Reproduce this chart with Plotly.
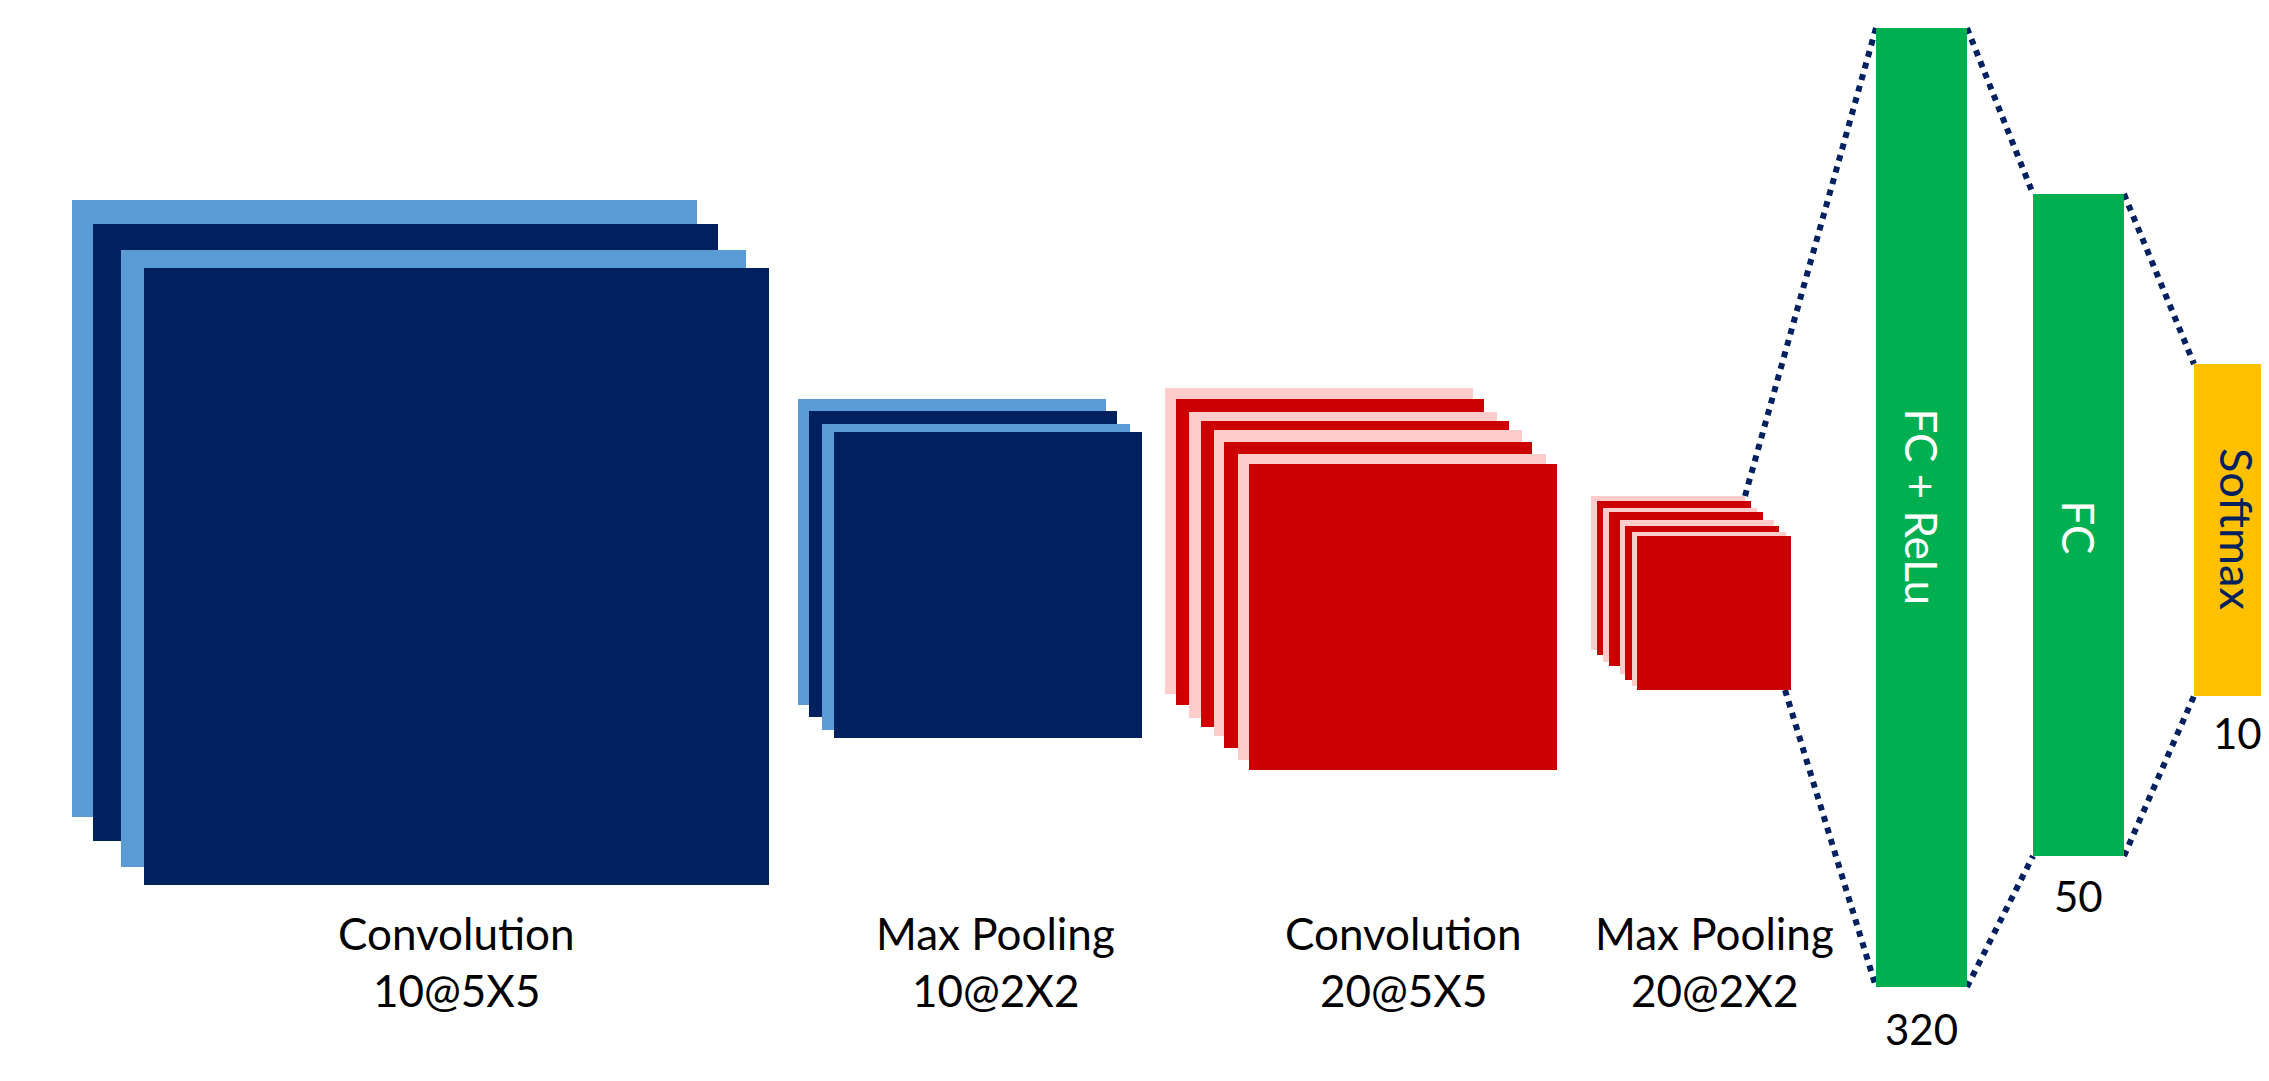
import plotly.graph_objects as go

W, H = 2269, 1081
BODY = 8  # default page body margin in the html page

# ---------------- data ----------------
stage_names = ["Convolution", "Max Pooling", "Convolution", "Max Pooling"]
stage_specs = ["10@5X5", "10@2X2", "20@5X5", "20@2X2"]
dense_names = ["FC + ReLu", "FC", "Softmax"]
dense_units = ["320", "50", "10"]

# ---------------- geometry (pixel space) ----------------
stack_origin = [(72, 200), (798, 399), (1165, 388), (1591, 496)]
stack_size = [(625, 617), (308, 306), (308, 306), (154, 154)]
stack_offsets = [
    [(0, 0), (21, 24), (49, 50), (72, 68)],
    [(0, 0), (11, 12), (24, 25), (36, 33)],
    [(0, 0), (11, 11), (24, 24), (36, 33), (49, 42), (59, 54), (73, 66), (84, 76)],
    [(0, 0), (6, 5), (12, 12), (18, 16), (29, 24), (34, 30), (41, 36), (46, 40)],
]
stack_colors = [("#5B9BD5", "#002060"), ("#5B9BD5", "#002060"),
                ("#FFCCCC", "#CC0000"), ("#FFCCCC", "#CC0000")]
label_x = [456, 995, 1403, 1714]
label_y = [933, 990]

dense_boxes = [(1876, 28, 1967, 987), (2033, 194, 2124, 856), (2194, 364, 2280, 696)]
dense_colors = ["#00B050", "#00B050", "#FFC000"]
dense_text_colors = ["white", "white", "#002060"]
dense_text_size = [44, 44, 45]
dense_text_y = [507, 527, 529]
unit_gap = [42, 40, 37]

NAVY = "#002060"
FONT = "Lato"

fig = go.Figure()
shapes = []
annotations = []

# connectors (drawn first so boxes sit on top)
p2x, p2y = stack_origin[3]
p2w, p2h = stack_size[3]
last = stack_offsets[3][-1]
segments = [
    ((p2x + p2w, p2y), (dense_boxes[0][0], dense_boxes[0][1])),
    ((p2x + last[0] + p2w - 6, p2y + last[1] + p2h), (dense_boxes[0][0], dense_boxes[0][3])),
]
for a, b in zip(dense_boxes[:-1], dense_boxes[1:]):
    segments.append(((a[2], a[1]), (b[0], b[1])))
    segments.append(((a[2], a[3]), (b[0], b[3])))
for (x0, y0), (x1, y1) in segments:
    shapes.append(dict(type="line", xref="x", yref="y", x0=x0, y0=y0, x1=x1, y1=y1,
                       line=dict(color=NAVY, width=6, dash="6px,6px"), layer="above"))

# feature-map stacks
for i in range(4):
    ox, oy = stack_origin[i]
    w, h = stack_size[i]
    for k, (dx, dy) in enumerate(stack_offsets[i]):
        shapes.append(dict(type="rect", xref="x", yref="y",
                           x0=ox + dx, y0=oy + dy, x1=ox + dx + w, y1=oy + dy + h,
                           fillcolor=stack_colors[i][k % 2], line=dict(width=0), layer="above"))
    annotations.append(dict(x=label_x[i], y=label_y[0], text=stage_names[i], showarrow=False,
                            xanchor="center", yanchor="middle",
                            font=dict(family=FONT, size=44, color="black")))
    annotations.append(dict(x=label_x[i], y=label_y[1], text=stage_specs[i], showarrow=False,
                            xanchor="center", yanchor="middle",
                            font=dict(family=FONT, size=44, color="black")))

# dense layers
for j, (x0, y0, x1, y1) in enumerate(dense_boxes):
    shapes.append(dict(type="rect", xref="x", yref="y", x0=x0, y0=y0, x1=x1, y1=y1,
                       fillcolor=dense_colors[j], line=dict(width=0), layer="above"))
    cx = (x0 + x1) / 2
    annotations.append(dict(x=cx, y=dense_text_y[j], text=dense_names[j], showarrow=False,
                            textangle=90, xanchor="center", yanchor="middle",
                            font=dict(family=FONT, size=dense_text_size[j],
                                      color=dense_text_colors[j])))
    annotations.append(dict(x=cx, y=y1 + unit_gap[j], text=dense_units[j], showarrow=False,
                            xanchor="center", yanchor="middle",
                            font=dict(family=FONT, size=42, color="black")))

fig.update_layout(
    width=W - BODY, height=H - BODY,
    margin=dict(l=0, r=0, t=0, b=0),
    paper_bgcolor="white", plot_bgcolor="white",
    xaxis=dict(range=[BODY, W], visible=False, fixedrange=True),
    yaxis=dict(range=[H, BODY], visible=False, fixedrange=True),
    shapes=shapes, annotations=annotations, showlegend=False,
)

fig.write_html("out.html", config={"displayModeBar": False})
